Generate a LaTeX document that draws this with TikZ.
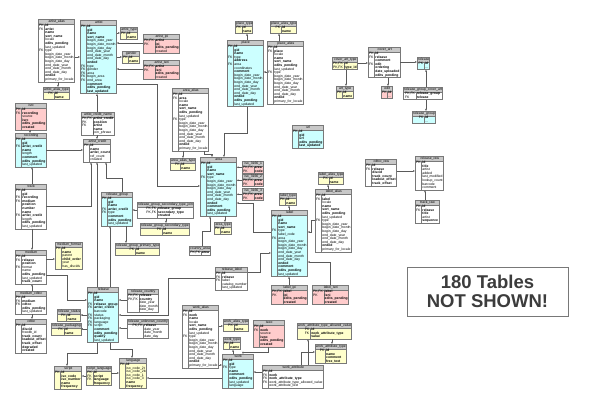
\documentclass[tikz,border=0pt]{standalone}
\usepackage{fontspec}
\setmainfont{Liberation Sans}
\usepackage{colortbl}
\usetikzlibrary{shapes.multipart,arrows.meta}

\definecolor{hdrgray}{RGB}{200,200,200}
\definecolor{tblborder}{RGB}{120,120,120}
\definecolor{linegray}{RGB}{90,90,90}
\definecolor{tcyan}{RGB}{204,255,255}
\definecolor{tyellow}{RGB}{255,255,204}
\definecolor{tpink}{RGB}{255,204,204}
\definecolor{notegray}{RGB}{60,60,60}

\arrayrulecolor{tblborder}
\setlength{\arrayrulewidth}{0.3pt}
\setlength{\tabcolsep}{0.8pt}

\tikzset{
  tbl/.style={rectangle split, rectangle split parts=2, draw=tblborder, line width=0.4pt,
    inner sep=0pt, anchor=north west, font=\fontsize{3.4}{3.6}\selectfont},
  fk/.style={draw=linegray, line width=0.35pt, -{Latex[length=2pt,width=1.8pt]}},
}

\newcommand{\nn}[1]{\textbf{#1}}
\newcommand{\dbtable}[5]{%
  \node[tbl, rectangle split part fill={hdrgray,#3}] (#1) at #2
    {\rule[-1.2pt]{0pt}{4.2pt}\hspace{1pt}#4\hspace{1pt}\nodepart{two}%
     \begin{tabular}{l|l}#5\end{tabular}};}

\catcode`\_=12
\newcommand{\dates}{& begin_date_year\\ & begin_date_month\\ & begin_date_day\\
  & end_date_year\\ & end_date_month\\ & end_date_day\\ & \nn{ended}\\}

\begin{document}
\begin{tikzpicture}[x=1pt,y=-1pt]
\fill[white] (0,0) rectangle (603,403);
\useasboundingbox (0,0) rectangle (603,403);

\dbtable{artistalias}{(38,19)}{white}{artist_alias}{PK & \nn{id}\\ FK & \nn{artist}\\ & \nn{name}\\ & \nn{sort_name}\\ & locale\\ & \nn{edits_pending}\\ & last_updated\\ FK & type\\ \dates & primary_for_locale}
\dbtable{artist}{(80,20)}{tcyan}{artist}{PK & \nn{id}\\ & \nn{gid}\\ & \nn{name}\\ & \nn{sort_name}\\ \dates FK & type\\ FK & gender\\ FK & area\\ FK & begin_area\\ FK & end_area\\ & \nn{comment}\\ & \nn{edits_pending}\\ & \nn{last_updated}}
\dbtable{artisttype}{(120,27)}{tyellow}{artist_type}{PK & \nn{id}\\ & \nn{name}}
\dbtable{gender}{(122,51)}{tyellow}{gender}{PK & \nn{id}\\ & \nn{name}}
\dbtable{artistipi}{(143,34)}{tpink}{artist_ipi}{PK,FK & \nn{artist}\\ PK & \nn{ipi}\\ & \nn{edits_pending}\\ & created}
\dbtable{artistisni}{(143,60)}{tpink}{artist_isni}{PK,FK & \nn{artist}\\ PK & \nn{isni}\\ & \nn{edits_pending}\\ & created}
\dbtable{artistaliastype}{(43,87)}{tyellow}{artist_alias_type}{PK & \nn{id}\\ & \nn{name}}
\dbtable{isrc}{(15,103)}{tpink}{isrc}{PK & \nn{id}\\ FK & \nn{recording}\\ & source\\ & \nn{isrc}\\ & \nn{edits_pending}\\ & \nn{created}}
\dbtable{artistcreditname}{(81,112)}{white}{artist_credit_name}{PK,FK & \nn{artist_credit}\\ PK & \nn{position}\\ FK & \nn{artist}\\ & \nn{name}\\ & join_phrase}

\dbtable{areaalias}{(172,88)}{white}{area_alias}{PK & \nn{id}\\ FK & \nn{area}\\ & locale\\ & \nn{name}\\ & \nn{sort_name}\\ & \nn{edits_pending}\\ & last_updated\\ FK & type\\ \dates & primary_for_locale}
\dbtable{placetype}{(235,21)}{tyellow}{place_type}{PK & \nn{id}\\ & \nn{name}}
\dbtable{placealiastype}{(270,21)}{tyellow}{place_alias_type}{PK & \nn{id}\\ & \nn{name}}
\dbtable{place}{(227,40)}{tcyan}{place}{PK & \nn{id}\\ & \nn{gid}\\ & \nn{name}\\ FK & type\\ & \nn{address}\\ FK & area\\ & coordinates\\ & \nn{comment}\\ \dates & \nn{edits_pending}\\ & last_updated}
\dbtable{placealias}{(267,41)}{white}{place_alias}{PK & \nn{id}\\ FK & \nn{place}\\ & locale\\ & \nn{name}\\ & \nn{sort_name}\\ & \nn{edits_pending}\\ & last_updated\\ FK & type\\ \dates & primary_for_locale}
\dbtable{url}{(292,125)}{tcyan}{url}{PK & \nn{id}\\ & \nn{gid}\\ & \nn{url}\\ & \nn{edits_pending}\\ & \nn{last_updated}}

\dbtable{coverarttype}{(332,57)}{tyellow}{cover_art_type}{PK,FK & \nn{id}\\ PK,FK & \nn{type_id}}
\dbtable{arttype}{(336,86)}{tyellow}{art_type}{PK & \nn{id}\\ & \nn{name}}
\dbtable{coverart}{(368,47)}{white}{cover_art}{PK & \nn{id}\\ FK & \nn{release}\\ & \nn{comment}\\ FK & \nn{edit}\\ & \nn{ordering}\\ & \nn{date_uploaded}\\ & \nn{edits_pending}}
\dbtable{edit}{(381,86)}{tpink}{edit}{PK & \nn{id}\\ & ...}
\dbtable{releasesm}{(417,57)}{tcyan}{release}{PK & \nn{id}\\ & ...}
\dbtable{rgcoverart}{(403,87)}{white}{release_group_cover_art}{PK,FK & \nn{release_group}\\ FK & \nn{release}}
\dbtable{rgsm}{(412,111)}{tcyan}{release_group}{PK & \nn{id}\\ & ...}

\dbtable{recording}{(15,133)}{tcyan}{recording}{PK & \nn{id}\\ & \nn{gid}\\ FK & \nn{artist_credit}\\ & \nn{name}\\ & length\\ & \nn{comment}\\ & \nn{edits_pending}\\ & last_updated}
\dbtable{artistcredit}{(83,139)}{white}{artist_credit}{PK & \nn{id}\\ & \nn{name}\\ & \nn{artist_count}\\ & ref_count\\ & created}
\dbtable{track}{(15,184)}{white}{track}{PK & \nn{id}\\ & \nn{gid}\\ FK & \nn{recording}\\ FK & \nn{medium}\\ & \nn{position}\\ & \nn{number}\\ & \nn{name}\\ FK & \nn{artist_credit}\\ & length\\ & \nn{edits_pending}\\ & last_updated}
\dbtable{releasegroup}{(101,192)}{tcyan}{release_group}{PK & \nn{id}\\ & \nn{gid}\\ & \nn{name}\\ FK & \nn{artist_credit}\\ FK & type\\ & \nn{comment}\\ & \nn{edits_pending}\\ & last_updated}
\dbtable{rgsecjoin}{(137,202)}{white}{release_group_secondary_type_join}{PK,FK & \nn{release_group}\\ PK,FK & \nn{secondary_type}\\ & \nn{created}}
\dbtable{rgsectype}{(140,223)}{tyellow}{release_group_secondary_type}{PK & \nn{id}\\ & \nn{name}}
\dbtable{rgprimtype}{(115,243)}{tyellow}{release_group_primary_type}{PK & \nn{id}\\ & \nn{name}}

\dbtable{areaaliastype}{(170,158)}{tyellow}{area_alias_type}{PK & \nn{id}\\ & \nn{name}}
\dbtable{area}{(200,157)}{tcyan}{area}{PK & \nn{id}\\ & \nn{gid}\\ & \nn{name}\\ & \nn{sort_name}\\ FK & type\\ \dates & \nn{comment}\\ & \nn{edits_pending}\\ & last_updated}
\dbtable{isoone}{(242,161)}{tpink}{iso_3166_1}{PK,FK & \nn{area}\\ PK & \nn{code}}
\dbtable{isotwo}{(242,174)}{tpink}{iso_3166_2}{PK,FK & \nn{area}\\ PK & \nn{code}}
\dbtable{isothree}{(242,188)}{tpink}{iso_3166_3}{PK,FK & \nn{area}\\ PK & \nn{code}}
\dbtable{areatype}{(214,222)}{tyellow}{area_type}{PK & \nn{id}\\ & \nn{name}}
\dbtable{countryarea}{(189,246)}{white}{country_area}{PK,FK & \nn{area}}

\dbtable{labeltype}{(279,193)}{tyellow}{label_type}{PK & \nn{id}\\ & \nn{name}}
\dbtable{label}{(271,210)}{tcyan}{label}{PK & \nn{id}\\ & \nn{gid}\\ & \nn{name}\\ & \nn{sort_name}\\ FK & type\\ & label_code\\ FK & area\\ \dates & \nn{comment}\\ & \nn{edits_pending}\\ & last_updated}
\dbtable{labelaliastype}{(318,172)}{tyellow}{label_alias_type}{PK & \nn{id}\\ & \nn{name}}
\dbtable{labelalias}{(315,189)}{white}{label_alias}{PK & \nn{id}\\ FK & \nn{label}\\ & locale\\ & \nn{name}\\ & \nn{sort_name}\\ & \nn{edits_pending}\\ & last_updated\\ FK & type\\ \dates & primary_for_locale}
\dbtable{cdtocraw}{(365,159)}{white}{cdtoc_raw}{PK & \nn{id}\\ FK & \nn{release}\\ & \nn{discid}\\ & \nn{track_count}\\ & \nn{leadout_offset}\\ & \nn{track_offset}}
\dbtable{releaseraw}{(415,156)}{white}{release_raw}{PK & \nn{id}\\ & \nn{title}\\ & artist\\ & added\\ & last_modified\\ & lookup_count\\ & barcode\\ & comment}
\dbtable{trackraw}{(415,200)}{white}{track_raw}{PK & \nn{id}\\ FK & \nn{release}\\ & \nn{title}\\ & artist\\ & \nn{sequence}}

\dbtable{mediumformat}{(55,242)}{tyellow}{medium_format}{PK & \nn{id}\\ & \nn{name}\\ & parent\\ & \nn{child_order}\\ & year\\ & has_discids}
\dbtable{medium}{(15,250)}{white}{medium}{PK & \nn{id}\\ FK & \nn{release}\\ & \nn{position}\\ FK & format\\ & name\\ & \nn{edits_pending}\\ & last_updated\\ & \nn{track_count}}
\dbtable{mediumcdtoc}{(15,291)}{white}{medium_cdtoc}{PK & \nn{id}\\ FK & \nn{medium}\\ FK & \nn{cdtoc}\\ & \nn{edits_pending}\\ & last_updated}
\dbtable{cdtoc}{(15,319)}{white}{cdtoc}{PK & \nn{id}\\ & \nn{discid}\\ & freedb_id\\ & \nn{track_count}\\ & \nn{leadout_offset}\\ & \nn{track_offset}\\ & \nn{degraded}\\ & \nn{created}}
\dbtable{release}{(87,287)}{tcyan}{release}{PK & \nn{id}\\ & \nn{gid}\\ & \nn{name}\\ FK & \nn{release_group}\\ FK & \nn{artist_credit}\\ & barcode\\ FK & status\\ FK & packaging\\ FK & language\\ FK & script\\ & \nn{comment}\\ & \nn{edits_pending}\\ & \nn{quality}\\ & last_updated}
\dbtable{releasestatus}{(57,309)}{tyellow}{release_status}{PK & \nn{id}\\ & \nn{name}}
\dbtable{releasepack}{(51,323)}{tyellow}{release_packaging}{PK & \nn{id}\\ & \nn{name}}
\dbtable{releasecountry}{(127,289)}{white}{release_country}{PK,FK & \nn{release}\\ PK,FK & \nn{country}\\ & date_year\\ & date_month\\ & date_day}
\dbtable{releaseunkcountry}{(127,319)}{white}{release_unknown_country}{PK,FK & \nn{release}\\ & date_year\\ & date_month\\ & date_day}
\dbtable{releaselabel}{(215,267)}{white}{release_label}{PK & \nn{id}\\ FK & \nn{release}\\ FK & label\\ & catalog_number\\ & last_updated}
\dbtable{script}{(54,366)}{tyellow}{script}{PK & \nn{id}\\ & \nn{iso_code}\\ & \nn{iso_number}\\ & \nn{name}\\ & \nn{frequency}}
\dbtable{scriptlang}{(86,366)}{tyellow}{script_language}{PK & \nn{id}\\ FK & \nn{script}\\ FK & \nn{language}\\ & \nn{frequency}}
\dbtable{language}{(119,358)}{tyellow}{language}{PK & \nn{id}\\ & iso_code_2t\\ & iso_code_2b\\ & iso_code_1\\ & iso_code_3\\ & \nn{name}\\ & \nn{frequency}}

\dbtable{workalias}{(182,305)}{white}{work_alias}{PK & \nn{id}\\ FK & \nn{work}\\ & \nn{name}\\ & locale\\ & \nn{sort_name}\\ & \nn{edits_pending}\\ & last_updated\\ FK & type\\ \dates & primary_for_locale}
\dbtable{workaliastype}{(223,319)}{tyellow}{work_alias_type}{PK & \nn{id}\\ & \nn{name}}
\dbtable{worktype}{(223,337)}{tyellow}{work_type}{PK & \nn{id}\\ & \nn{name}}
\dbtable{iswc}{(253,320)}{tpink}{iswc}{PK & \nn{id}\\ FK & \nn{work}\\ & source\\ & \nn{iswc}\\ & \nn{edits_pending}\\ & \nn{created}}
\dbtable{work}{(222,354)}{tcyan}{work}{PK & \nn{id}\\ & \nn{gid}\\ FK & type\\ & \nn{name}\\ & \nn{comment}\\ & \nn{edits_pending}\\ & last_updated\\ & language}
\dbtable{labelipi}{(271,285)}{tpink}{label_ipi}{PK,FK & \nn{label}\\ PK & \nn{ipi}\\ & \nn{edits_pending}\\ & \nn{created}}
\dbtable{labelisni}{(312,285)}{tpink}{label_isni}{PK,FK & \nn{label}\\ PK & \nn{isni}\\ & \nn{edits_pending}\\ & \nn{created}}
\dbtable{wata}{(297,323)}{tyellow}{work_attribute_type_allowed_value}{PK & \nn{id}\\ FK & \nn{work_attribute_type}\\ & \nn{value}}
\dbtable{wat}{(315,344)}{tyellow}{work_attribute_type}{PK & \nn{id}\\ & \nn{name}\\ & \nn{comment}\\ & \nn{free_text}}
\dbtable{workattr}{(262,365)}{white}{work_attribute}{PK & \nn{id}\\ FK & \nn{work}\\ FK & \nn{work_attribute_type}\\ FK & work_attribute_type_allowed_value\\ & work_attribute_text}

\node[draw=tblborder, line width=0.6pt, fill=white, text=notegray, align=center,
  font=\fontsize{18.5}{19}\selectfont\bfseries, minimum width=161pt, minimum height=49pt]
  (notshown) at (487.5,291.5) {180 Tables\\NOT SHOWN!};

\draw[fk] (artistalias.east |- 0,57) -- (artist.west |- 0,57);
\draw[fk] (58,0 |- artistalias.south) -- (58,0 |- artistaliastype.north);
\draw[fk] (artist.east |- 0,33) -- (artisttype.west |- 0,33);
\draw[fk] (artist.east |- 0,57) -- (gender.west |- 0,57);
\draw[fk] (artistipi.west |- 0,43) -- (artist.east |- 0,43);
\draw[fk] (artistisni.west |- 0,69) -- (artist.east |- 0,69);
\draw[fk] (artist.east |- 0,84) -| (157,186) -- (area.west |- 0,186);
\draw[fk] (97,0 |- artistcreditname.north) -- (97,0 |- artist.south);
\draw[fk] (97,0 |- artistcreditname.south) -- (97,0 |- artistcredit.north);
\draw[fk] (30,0 |- isrc.south) -- (30,0 |- recording.north);

\draw[fk] (recording.east |- 0,150) -- (artistcredit.west |- 0,150);
\draw[fk] (32,0 |- track.north) -- (32,0 |- recording.south);
\draw[fk] (track.east |- 0,206) -| (91,0 |- artistcredit.south);
\draw[fk] (32,0 |- track.south) -- (32,0 |- medium.north);
\draw[fk] (122,0 |- releasegroup.north) |- (106,178) -- (106,0 |- artistcredit.south);
\draw[fk] (97,0 |- release.north) -- (97,0 |- artistcredit.south);
\draw[fk] (110,0 |- release.north) -- (110,0 |- releasegroup.south);
\draw[fk] (126,0 |- releasegroup.south) -- (126,0 |- rgprimtype.north);
\draw[fk] (rgsecjoin.west |- 0,210) -- (releasegroup.east |- 0,210);
\draw[fk] (166,0 |- rgsecjoin.south) -- (166,0 |- rgsectype.north);

\draw[fk] (204,0 |- areaalias.south) |- (212,154) -- (212,0 |- area.north);
\draw[fk] (183,0 |- areaalias.south) -- (183,0 |- areaaliastype.north);
\draw[fk] (247,0 |- place.south) |- (224,133) -- (224,0 |- area.north);
\draw[fk] (225,0 |- area.south) -- (225,0 |- areatype.north);
\draw[fk] (isoone.west) -- (area.east |- isoone.west);
\draw[fk] (isotwo.west) -- (area.east |- isotwo.west);
\draw[fk] (isothree.west) -- (area.east |- isothree.west);
\draw[fk] (202,0 |- countryarea.north) |- (210,231) -- (210,0 |- area.south);
\draw[fk] (label.west |- 0,232) -| (253,203) -- (area.east |- 0,203);
\draw[fk] (289,0 |- label.north) -- (289,0 |- labeltype.south);
\draw[fk] (labelalias.west |- 0,220) -| (311,232) -- (label.east |- 0,232);
\draw[fk] (328,0 |- labelalias.north) -- (328,0 |- labelaliastype.south);
\draw[fk] (cdtocraw.east |- 0,171) -- (releaseraw.west |- 0,171);
\draw[fk] (425,0 |- trackraw.north) -- (425,0 |- releaseraw.south);

\draw[fk] (releaselabel.east |- 0,272) -| (260,253) -- (label.west |- 0,253);
\draw[fk] (289,0 |- labelipi.north) -- (289,0 |- label.south);
\draw[fk] (330,0 |- labelisni.north) |- (label.east |- 0,262);
\draw[fk] (releaselabel.west |- 0,278) -| (168,315) -- (release.east |- 0,315);
\draw[fk] (releasecountry.west |- 0,300) -- (release.east |- 0,300);
\draw[fk] (releaseunkcountry.west |- 0,328) -- (release.east |- 0,328);
\draw[fk] (release.west |- 0,315) -- (releasestatus.east |- 0,315);
\draw[fk] (release.west |- 0,329) -- (releasepack.east |- 0,329);
\draw[fk] (medium.east |- 0,275) -| (67,300) -- (release.west |- 0,300);
\draw[fk] (medium.east |- 0,259) -- (mediumformat.west |- 0,259);
\draw[fk] (32,0 |- mediumcdtoc.north) -- (32,0 |- medium.south);
\draw[fk] (32,0 |- mediumcdtoc.south) -- (32,0 |- cdtoc.north);

\draw[fk] (97,0 |- release.south) |- (67,353) -- (67,0 |- script.north);
\draw[fk] (110,0 |- release.south) |- (132,349) -- (132,0 |- language.north);
\draw[fk] (scriptlang.west |- 0,376) -- (script.east |- 0,376);
\draw[fk] (scriptlang.east |- 0,373) -- (language.west |- 0,373);
\draw[fk] (work.west |- 0,378) -- (language.east |- 0,378);
\draw[fk] (workalias.east |- 0,365) -- (work.west |- 0,365);
\draw[fk] (workalias.east |- 0,326) -- (workaliastype.west |- 0,326);
\draw[fk] (233,0 |- work.north) -- (233,0 |- worktype.south);
\draw[fk] (268,0 |- iswc.south) |- (243,352) -- (243,0 |- work.north);
\draw[fk] (workattr.west |- 0,372) -- (work.east |- 0,372);
\draw[fk] (301,0 |- workattr.north) |- (wat.west |- 0,352);
\draw[fk] (308,0 |- workattr.north) -- (308,0 |- wata.south);
\draw[fk] (332,0 |- wata.south) -- (332,0 |- wat.north);

\draw[fk] (coverart.east |- 0,62) -- (releasesm.west |- 0,62);
\draw[fk] (388,0 |- coverart.south) -- (388,0 |- edit.north);
\draw[fk] (coverarttype.east |- 0,63) -- (coverart.west |- 0,63);
\draw[fk] (346,0 |- coverarttype.south) -- (346,0 |- arttype.north);
\draw[fk] (426,0 |- rgcoverart.north) -- (426,0 |- releasesm.south);
\draw[fk] (426,0 |- rgcoverart.south) -- (426,0 |- rgsm.north);
\draw[fk] (247,0 |- place.north) -- (247,0 |- placetype.south);
\draw[fk] (279,0 |- placealias.north) -- (279,0 |- placealiastype.south);
\draw[fk] (placealias.west |- 0,72) -- (place.east |- 0,72);
\end{tikzpicture}
\end{document}
